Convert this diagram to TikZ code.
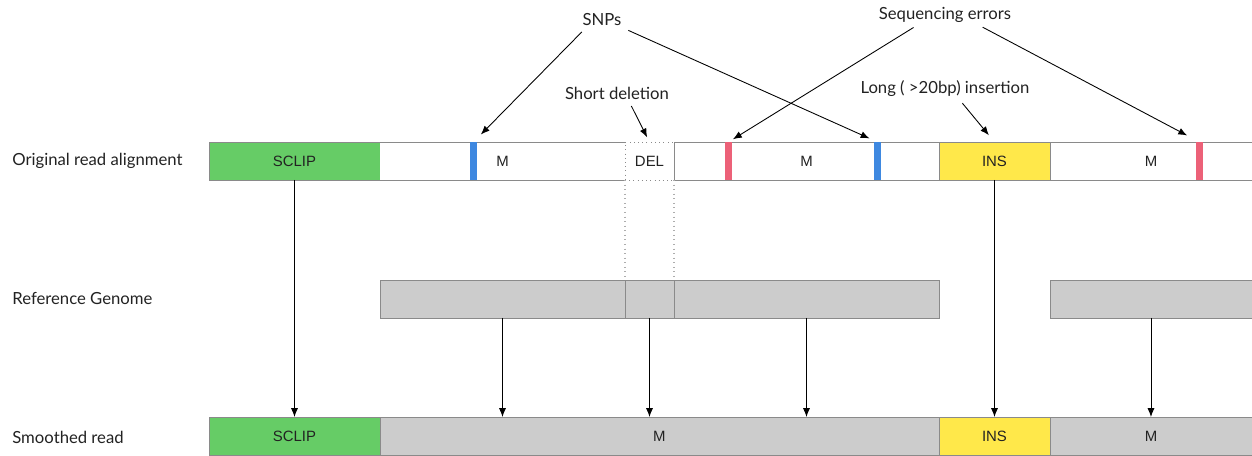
\documentclass[tikz,border=0pt]{standalone}
\usepackage{fontspec}
\setmainfont{Lato}
\newfontfamily\boxfont{Liberation Sans}
\usetikzlibrary{arrows.meta}
\definecolor{clipgreen}{HTML}{66CC66}
\definecolor{snpblue}{HTML}{3E88E0}
\definecolor{errred}{HTML}{EC6178}
\definecolor{insyellow}{HTML}{FFE84A}
\definecolor{refgray}{HTML}{CCCCCC}
\definecolor{edgegray}{HTML}{8A8A8A}
\definecolor{inkgray}{HTML}{222222}

\begin{document}
\begin{tikzpicture}[x=0.02cm, y=-0.02cm]
		\tikzstyle{seg} =[draw=edgegray, minimum height=0.76cm, inner sep=0pt, outer sep=0pt, anchor=north west, text=inkgray, font=\boxfont\fontsize{8.5}{10}\selectfont];
		\tikzstyle{openseg} =[seg, draw=none, fill=white];
		\tikzstyle{bar} =[minimum width=0.14cm, minimum height=0.76cm, inner sep=0pt, outer sep=0pt, anchor=north west];
		\tikzstyle{rowlabel} =[anchor=west, inner sep=0pt, text=inkgray, font=\fontsize{9.5}{11}\selectfont];
		\tikzstyle{note} =[inner sep=1pt, text=inkgray, font=\fontsize{9.5}{11}\selectfont];
		\tikzstyle{pointer} =[-{Latex[length=5pt,width=4pt]}, line width=0.5pt, black];
		\tikzstyle{delguide} =[draw=edgegray!70, dotted, line width=0.6pt];
		\useasboundingbox (0,0) rectangle (1252,456);

		\node[rowlabel] (lblread) at (12,161) {Original read alignment};
		\node[rowlabel] (lblref) at (12,298) {Reference Genome};
		\node[rowlabel] (lblsmooth) at (12,437) {Smoothed read};

		\node[seg, fill=clipgreen, minimum width=3.42cm] (sclip1) at (209,142) {SCLIP};
		\node[openseg, minimum width=4.9cm] (m1) at (380,142) {M};
		\draw[draw=edgegray] (m1.north west) -- (m1.north east) (m1.south west) -- (m1.south east);
		\node[seg, draw=edgegray, dotted, fill=white, minimum width=0.98cm] (del) at (625,142) {DEL};
		\node[seg, fill=white, minimum width=5.3cm] (m2) at (674,142) {M};
		\node[seg, fill=insyellow, minimum width=2.22cm] (ins1) at (939,142) {INS};
		\node[seg, fill=white, minimum width=4.04cm] (m3) at (1050,142) {M};
		\node[bar, fill=snpblue] (snp1) at (470,142) {};
		\node[bar, fill=errred] (err1) at (725,142) {};
		\node[bar, fill=snpblue] (snp2) at (874,142) {};
		\node[bar, fill=errred] (err2) at (1196,142) {};

		\node[seg, fill=refgray, minimum width=4.9cm] (ref1) at (380,280) {};
		\node[seg, fill=refgray, minimum width=0.98cm] (refdel) at (625,280) {};
		\node[seg, fill=refgray, minimum width=5.3cm] (ref2) at (674,280) {};
		\node[seg, fill=refgray, minimum width=4.04cm] (ref3) at (1050,280) {};

		\node[seg, fill=clipgreen, minimum width=3.42cm] (sclip3) at (209,417) {SCLIP};
		\node[seg, fill=refgray, minimum width=11.18cm] (smooth1) at (380,417) {M};
		\node[seg, fill=insyellow, minimum width=2.22cm] (ins3) at (939,417) {INS};
		\node[seg, fill=refgray, minimum width=4.04cm] (smooth2) at (1050,417) {M};

		\node[note] (snps) at (602,20) {SNPs};
		\node[note] (seqerr) at (945,15) {Sequencing errors};
		\node[note] (shortdel) at (617,93) {Short deletion};
		\node[note] (longins) at (945,89) {Long ( >20bp) insertion};

		\draw[delguide] (del.south west) -- (refdel.north west);
		\draw[delguide] (del.south east) -- (refdel.north east);

		\draw[pointer, shorten <=3pt, shorten >=6pt] ([xshift=0.1cm]snps.south west) -- (snp1.north);
		\draw[pointer, shorten <=3pt, shorten >=5pt] (snps.south east) -- (snp2.north);
		\draw[pointer, shorten <=3pt, shorten >=3pt] ([xshift=-0.54cm]seqerr.south) -- (err1.north);
		\draw[pointer, shorten <=3pt, shorten >=8pt] ([xshift=0.66cm]seqerr.south) -- (err2.north);
		\draw[pointer, shorten <=3pt, shorten >=3pt] ([xshift=0.24cm]shortdel.south) -- (del.north);
		\draw[pointer, shorten <=3pt, shorten >=5pt] ([xshift=0.28cm]longins.south) -- (ins1.north);

		\draw[pointer] (sclip1) -- (sclip3);
		\draw[pointer] (ins1) -- (ins3);
		\draw[pointer] (ref1.south) -- (ref1.south |- smooth1.north);
		\draw[pointer] (refdel.south) -- (refdel.south |- smooth1.north);
		\draw[pointer] (ref2.south) -- (ref2.south |- smooth1.north);
		\draw[pointer] (ref3.south) -- (ref3.south |- smooth2.north);
	\end{tikzpicture}
\end{document}
